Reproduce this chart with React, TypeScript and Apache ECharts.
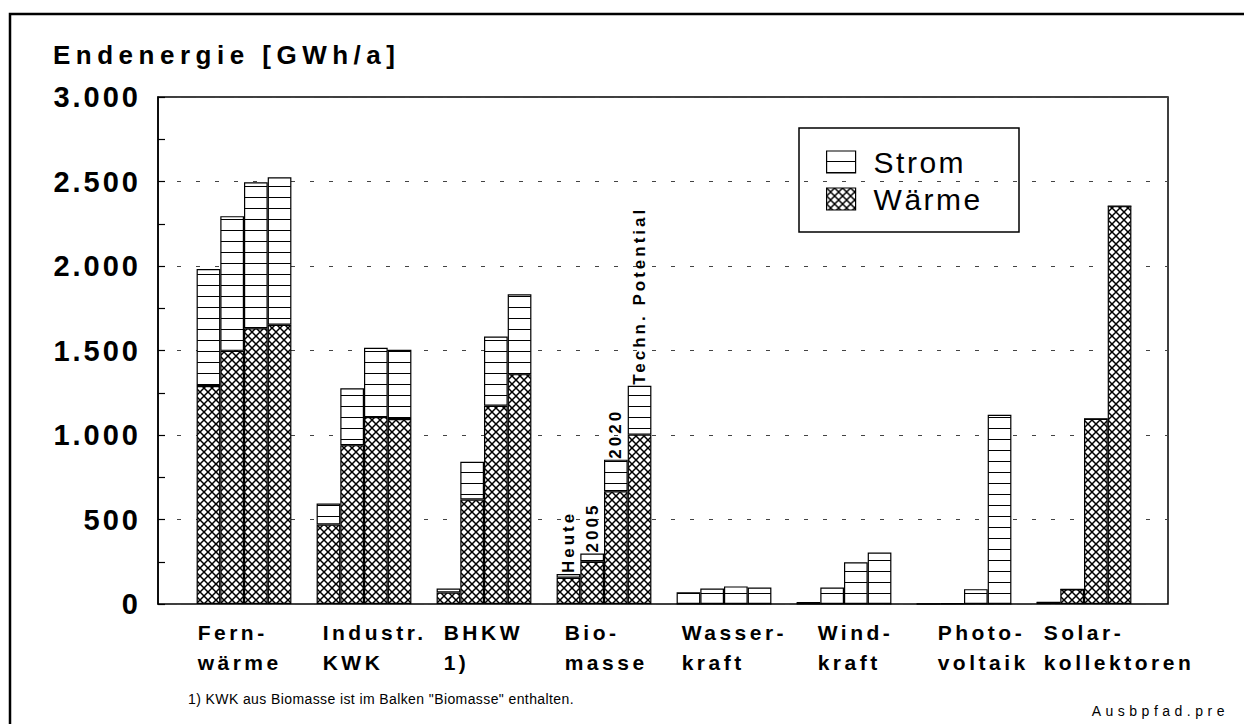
import React, { useEffect, useRef } from "react";
import * as echarts from "echarts";

// ---------- data ----------
const categories = [
  "Fern-\nwärme",
  "Industr.\nKWK",
  "BHKW\n1)",
  "Bio-\nmasse",
  "Wasser-\nkraft",
  "Wind-\nkraft",
  "Photo-\nvoltaik",
  "Solar-\nkollektoren",
];
const periods = ["Heute", "2005", "2020", "Techn. Potential"];

const waermeHeute = [1290, 470, 68, 155, 0, 0, 0, 10];
const waerme2005 = [1498, 940, 618, 250, 0, 0, 0, 87];
const waerme2020 = [1632, 1106, 1173, 667, 0, 0, 0, 1096];
const waermePotential = [1652, 1094, 1360, 1002, 0, 0, 0, 2354];

const stromHeute = [692, 125, 24, 22, 69, 12, 1, 0];
const strom2005 = [797, 336, 223, 49, 92, 97, 4, 0];
const strom2020 = [864, 410, 410, 187, 104, 247, 88, 0];
const stromPotential = [873, 410, 473, 289, 98, 305, 1120, 0];

const yMin = 0;
const yMax = 3000;
const yInterval = 500;
const labelledCategory = 3; // Biomasse bars carry the period labels

const title = "Endenergie [GWh/a]";
const footnote = '1) KWK aus Biomasse ist im Balken "Biomasse" enthalten.';
const fileName = "Ausbpfad.pre";

// ---------- styles ----------
const FONT = '"Liberation Sans", Arial, Helvetica, sans-serif';
const labelShift = [1, 6, 7, 8, 5, 21, 21, 7];

function stripePattern() {
  const c = document.createElement("canvas");
  c.width = 10;
  c.height = 11;
  const g = c.getContext("2d")!;
  g.fillStyle = "#fff";
  g.fillRect(0, 0, 10, 11);
  g.fillStyle = "#000";
  g.fillRect(0, 10, 10, 1.3);
  return { image: c.toDataURL(), repeat: "repeat", imageWidth: 10, imageHeight: 11 };
}

function hatchPattern() {
  const s = 8;
  const c = document.createElement("canvas");
  c.width = s;
  c.height = s;
  const g = c.getContext("2d")!;
  g.fillStyle = "#fff";
  g.fillRect(0, 0, s, s);
  g.strokeStyle = "#000";
  g.lineWidth = 1.5;
  for (const dx of [-s, 0, s]) {
    g.beginPath();
    g.moveTo(dx, 0);
    g.lineTo(dx + s, s);
    g.moveTo(dx + s, 0);
    g.lineTo(dx, s);
    g.stroke();
  }
  return { image: c.toDataURL(), repeat: "repeat", imageWidth: s, imageHeight: s };
}

function fmtThousands(v: number) {
  const s = String(Math.round(v));
  return s.replace(/\B(?=(\d{3})+(?!\d))/g, ".");
}

export default function App() {
  const ref = useRef<HTMLDivElement>(null);

  useEffect(() => {
    if (!ref.current) return;
    const chart = echarts.init(ref.current, null, { renderer: "svg" });
    const stripe = stripePattern();
    const hatch = hatchPattern();
    const waermeSets = [waermeHeute, waerme2005, waerme2020, waermePotential];
    const stromSets = [stromHeute, strom2005, strom2020, stromPotential];

    const barCommon = {
      type: "bar",
      xAxisIndex: 1,
      yAxisIndex: 1,
      barWidth: 23.7,
      barGap: "0%",
      silent: true,
    };

    const series: any[] = [];
    periods.forEach((p, i) => {
      series.push({
        ...barCommon,
        name: "Wärme",
        stack: "s" + i,
        data: waermeSets[i],
        itemStyle: { color: hatch, borderColor: "#000", borderWidth: 1.2 },
      });
      series.push({
        ...barCommon,
        name: "Strom",
        stack: "s" + i,
        data: stromSets[i].map((v, j) =>
          j === labelledCategory ? { value: v, label: { show: true, formatter: p } } : v
        ),
        itemStyle: { color: stripe, borderColor: "#000", borderWidth: 1.2 },
        label: {
          show: false,
          position: "top",
          rotate: 90,
          align: "left",
          verticalAlign: "middle",
          distance: 5,
          offset: [-4, 0],
          color: "#000",
          fontSize: 17,
          fontWeight: "bold",
          fontFamily: FONT,
        },
      });
    });

    const catLabelStyle = {
      align: "left",
      fontSize: 21,
      lineHeight: 30,
      fontWeight: "bold",
      fontFamily: FONT,
      color: "#000",
    };

    const option: any = {
      animation: false,
      backgroundColor: "#fff",
      textStyle: { fontFamily: FONT },
      grid: [
        { left: 158, right: 76, top: 97, bottom: 120, show: true, borderColor: "#000", borderWidth: 1.5, backgroundColor: "transparent" },
        { left: 184, right: 100, top: 97, bottom: 120 },
        { left: 136.67, right: 147.33, top: 97, bottom: 120 },
      ],
      xAxis: [
        { gridIndex: 0, type: "value", min: 0, max: 1, show: false },
        {
          gridIndex: 1,
          type: "category",
          data: categories,
          axisLine: { show: false },
          axisTick: { show: false },
          axisLabel: { show: false },
          splitLine: { show: false },
        },
        {
          gridIndex: 2,
          type: "category",
          data: categories.map((c, i) => ({
            value: c,
            textStyle: { ...catLabelStyle, padding: [0, 0, 0, labelShift[i]] },
          })),
          axisLine: { show: false },
          axisTick: { show: false },
          splitLine: { show: false },
          axisLabel: {
            show: true,
            interval: 0,
            margin: 13,
            ...catLabelStyle,
          },
        },
      ],
      yAxis: [
        {
          gridIndex: 0,
          type: "value",
          min: yMin,
          max: yMax,
          interval: yInterval,
          axisLine: { show: true, lineStyle: { color: "#000", width: 1.5 } },
          axisTick: { show: true, inside: true, length: 7, lineStyle: { color: "#000", width: 1.2 } },
          minorTick: { show: true, splitNumber: 2, length: 7, lineStyle: { color: "#000", width: 1.2 } },
          splitLine: { show: true, lineStyle: { color: "#444", width: 1, type: [4, 15] } },
          axisLabel: {
            margin: 17,
            fontSize: 29,
            fontWeight: "bold",
            fontFamily: FONT,
            color: "#000",
            formatter: (v: number) => fmtThousands(v),
          },
        },
        { gridIndex: 1, type: "value", min: yMin, max: yMax, show: false },
        { gridIndex: 2, type: "value", min: yMin, max: yMax, show: false },
      ],
      legend: {
        data: ["Strom", "Wärme"],
        orient: "vertical",
        left: 826,
        top: 147,
        padding: 0,
        itemWidth: 29,
        itemHeight: 22,
        itemGap: 7,
        icon: "rect",
        selectedMode: false,
        itemStyle: { borderColor: "#000", borderWidth: 1.2 },
        textStyle: { fontSize: 30, fontFamily: FONT, color: "#000", padding: [0, 0, 0, 13] },
      },
      graphic: [
        {
          type: "rect",
          silent: true,
          shape: { x: 10, y: 14, width: 1250, height: 730 },
          style: { fill: "none", stroke: "#000", lineWidth: 2.5 },
        },
        {
          type: "rect",
          silent: true,
          shape: { x: 799, y: 128, width: 220, height: 104 },
          style: { fill: "none", stroke: "#000", lineWidth: 1.5 },
        },
        {
          type: "text",
          x: 53,
          y: 55,
          style: {
            text: title,
            font: "bold 26px " + FONT,
            fill: "#000",
            textAlign: "left",
            textVerticalAlign: "middle",
            align: "left",
            verticalAlign: "middle",
          },
        },
        {
          type: "text",
          x: 188,
          y: 699,
          style: {
            text: footnote,
            font: "14px " + FONT,
            fill: "#000",
            textAlign: "left",
            textVerticalAlign: "middle",
            align: "left",
            verticalAlign: "middle",
          },
        },
        {
          type: "text",
          x: 1229,
          y: 711,
          style: {
            text: fileName,
            font: "14px " + FONT,
            fill: "#000",
            textAlign: "right",
            textVerticalAlign: "middle",
            align: "right",
            verticalAlign: "middle",
          },
        },
      ],
      series,
    };

    chart.setOption(option);

    const applySpacing = () => {
      const root = ref.current;
      if (!root) return;
      root.querySelectorAll("text").forEach((t) => {
        const cs = getComputedStyle(t);
        const fs = parseFloat(cs.fontSize);
        const w = parseInt(cs.fontWeight, 10) || (cs.fontWeight === "bold" ? 700 : 400);
        const bold = w >= 600;
        let ls = 0;
        const txt = t.textContent || "";
        if (txt === fileName) ls = 4.5;
        else if (bold) {
          if (fs >= 28) ls = 3;
          else if (fs >= 24) ls = 5.5;
          else if (fs >= 20) ls = 3.5;
          else ls = 3;
        } else {
          if (fs >= 28) ls = 2.5;
          else ls = 0.4;
        }
        (t as any).style.letterSpacing = ls + "px";
      });
    };
    applySpacing();
    const raf = requestAnimationFrame(applySpacing);

    return () => {
      cancelAnimationFrame(raf);
      chart.dispose();
    };
  }, []);

  return (
    <div
      ref={ref}
      style={{ position: "fixed", left: 0, top: 0, width: 1244, height: 724, background: "#fff" }}
    />
  );
}
